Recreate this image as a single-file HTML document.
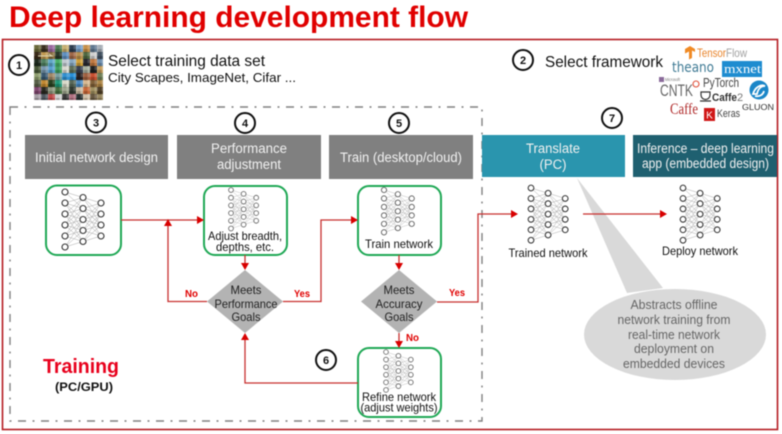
<!DOCTYPE html>
<html><head><meta charset="utf-8"><style>
html,body{margin:0;padding:0;background:#fff;width:782px;height:434px;overflow:hidden}
svg{display:block;filter:blur(.45px)}
text{font-family:"Liberation Sans",sans-serif}
.m{text-anchor:middle}
.w{fill:#f0f0f0;font-size:13.5px}
.b{fill:#111;font-size:12px}
.g{fill:#666;font-size:12.5px;text-anchor:middle}
.r{fill:#e00000;font-weight:bold;font-size:10.5px}
.c{fill:#fff;stroke:#111;stroke-width:2}
.n{fill:#111;font-weight:bold;font-size:11px;text-anchor:middle}
.l{fill:none;stroke:#c8302f;stroke-width:1.3}
.a{fill:#d80000}
.gb{fill:#fff;stroke:#1fa855;stroke-width:2}
.d{fill:#b3b3b3}
</style></head><body>
<svg width="782" height="434" viewBox="0 0 782 434" xmlns="http://www.w3.org/2000/svg">
<defs>
<pattern id="fine" width="7" height="7" patternUnits="userSpaceOnUse">
<rect x="0" y="0" width="3.5" height="3.5" fill="#000" opacity=".22"/>
<rect x="3.5" y="3.5" width="3.5" height="3.5" fill="#fff" opacity=".18"/>
</pattern>
<g id="nl" stroke="#aaa" stroke-width=".5" fill="none">
<path d="M0 0L18 5.5 0 11 18 16.5 0 22 18 27.5 0 33 18 38.5 0 44 18 49.5 0 55 18 38.5 0 22 18 5.5 0 33 18 16.5 0 44 18 27.5 0 55M0 0L18 16.5M0 11L18 27.5M0 22L18 49.5M0 33L18 49.5M0 11L18 38.5"/>
<path d="M18 5.5L36 11 18 16.5 36 22 18 27.5 36 33 18 38.5 36 44 18 49.5 36 33 18 16.5 36 33M18 5.5L36 22 18 38.5 36 11 18 27.5 36 44 18 16.5M18 5.5L36 33M18 49.5L36 22"/>
</g>
<g id="net">
<use href="#nl"/>
<g fill="#fff" stroke="#333" stroke-width="1.1">
<circle cx="0" cy="0" r="3"/><circle cx="0" cy="11" r="3"/><circle cx="0" cy="22" r="3"/><circle cx="0" cy="33" r="3"/><circle cx="0" cy="44" r="3"/><circle cx="0" cy="55" r="3"/>
<circle cx="18" cy="5.5" r="3"/><circle cx="18" cy="16.5" r="3"/><circle cx="18" cy="27.5" r="3"/><circle cx="18" cy="38.5" r="3"/><circle cx="18" cy="49.5" r="3"/>
<circle cx="36" cy="11" r="3"/><circle cx="36" cy="22" r="3"/><circle cx="36" cy="33" r="3"/><circle cx="36" cy="44" r="3"/>
</g>
</g>
<g id="nets">
<use href="#nl"/>
<g fill="#fff" stroke="#555" stroke-width="1.1">
<circle cx="0" cy="0" r="3.400"/><circle cx="0" cy="11" r="3.400"/><circle cx="0" cy="22" r="3.400"/><circle cx="0" cy="33" r="3.400"/><circle cx="0" cy="44" r="3.400"/><circle cx="0" cy="55" r="3.400"/>
<circle cx="18" cy="5.5" r="3.400"/><circle cx="18" cy="16.5" r="3.400"/><circle cx="18" cy="27.5" r="3.400"/><circle cx="18" cy="38.5" r="3.400"/><circle cx="18" cy="49.5" r="3.400"/>
<circle cx="36" cy="11" r="3.400"/><circle cx="36" cy="22" r="3.400"/><circle cx="36" cy="33" r="3.400"/><circle cx="36" cy="44" r="3.400"/>
</g>
</g>
</defs>
<rect width="782" height="434" fill="#fff"/>
<text x="9" y="27" font-size="29.500" font-weight="bold" fill="#e00000" textLength="459" lengthAdjust="spacingAndGlyphs">Deep learning development flow</text>
<rect x="2.5" y="39.5" width="775" height="390" fill="none" stroke="#b51c22" stroke-width="1.6"/>
<rect x="10" y="107" width="472" height="314" fill="none" stroke="#808080" stroke-width="1.4" stroke-dasharray="8 6.500 2 6.500"/>

<!-- collage -->
<g>
<rect x="34" y="45" width="69" height="55" fill="#5a5a4a"/>
<rect x="34" y="45" width="7" height="7" fill="#6b6a3a"/><rect x="41" y="45" width="7" height="7" fill="#3a3020"/><rect x="48" y="45" width="7" height="7" fill="#9a6aa0"/><rect x="55" y="45" width="7" height="7" fill="#4f7c52"/><rect x="62" y="45" width="7" height="7" fill="#c8b070"/><rect x="69" y="45" width="7" height="7" fill="#2d3d50"/><rect x="76" y="45" width="7" height="7" fill="#78a0c8"/><rect x="83" y="45" width="7" height="7" fill="#c89048"/><rect x="90" y="45" width="7" height="7" fill="#607890"/><rect x="97" y="45" width="6" height="7" fill="#a8b0b8"/>
<rect x="34" y="52" width="7" height="7" fill="#3a2a18"/><rect x="41" y="52" width="7" height="7" fill="#c09850"/><rect x="48" y="52" width="7" height="7" fill="#8a7040"/><rect x="55" y="52" width="7" height="7" fill="#283828"/><rect x="62" y="52" width="7" height="7" fill="#6090c0"/><rect x="69" y="52" width="7" height="7" fill="#a06848"/><rect x="76" y="52" width="7" height="7" fill="#b89050"/><rect x="83" y="52" width="7" height="7" fill="#506840"/><rect x="90" y="52" width="7" height="7" fill="#d0d0d0"/><rect x="97" y="52" width="6" height="7" fill="#405060"/>
<rect x="34" y="59" width="7" height="7" fill="#1e2a1e"/><rect x="41" y="59" width="7" height="7" fill="#508060"/><rect x="48" y="59" width="7" height="7" fill="#60a8c8"/><rect x="55" y="59" width="7" height="7" fill="#48b068"/><rect x="62" y="59" width="7" height="7" fill="#c0c8d0"/><rect x="69" y="59" width="7" height="7" fill="#88a8c0"/><rect x="76" y="59" width="7" height="7" fill="#d0a038"/><rect x="83" y="59" width="7" height="7" fill="#282830"/><rect x="90" y="59" width="7" height="7" fill="#c07840"/><rect x="97" y="59" width="6" height="7" fill="#7090b0"/>
<rect x="34" y="66" width="7" height="7" fill="#485838"/><rect x="41" y="66" width="7" height="7" fill="#7898b0"/><rect x="48" y="66" width="7" height="7" fill="#58a0d0"/><rect x="55" y="66" width="7" height="7" fill="#40a060"/><rect x="62" y="66" width="7" height="7" fill="#d8d8d0"/><rect x="69" y="66" width="7" height="7" fill="#607058"/><rect x="76" y="66" width="7" height="7" fill="#384050"/><rect x="83" y="66" width="7" height="7" fill="#a8b0a0"/><rect x="90" y="66" width="7" height="7" fill="#202020"/><rect x="97" y="66" width="6" height="7" fill="#c8a060"/>
<rect x="34" y="73" width="7" height="7" fill="#90a070"/><rect x="41" y="73" width="7" height="7" fill="#385870"/><rect x="48" y="73" width="7" height="7" fill="#a08868"/><rect x="55" y="73" width="7" height="7" fill="#78a0a0"/><rect x="62" y="73" width="7" height="7" fill="#3090d0"/><rect x="69" y="73" width="7" height="7" fill="#2890d8"/><rect x="76" y="73" width="7" height="7" fill="#282020"/><rect x="83" y="73" width="7" height="7" fill="#a06040"/><rect x="90" y="73" width="7" height="7" fill="#c85030"/><rect x="97" y="73" width="6" height="7" fill="#708058"/>
<rect x="34" y="80" width="7" height="7" fill="#586048"/><rect x="41" y="80" width="7" height="7" fill="#c08830"/><rect x="48" y="80" width="7" height="7" fill="#284020"/><rect x="55" y="80" width="7" height="7" fill="#209878"/><rect x="62" y="80" width="7" height="7" fill="#d8d8c8"/><rect x="69" y="80" width="7" height="7" fill="#586858"/><rect x="76" y="80" width="7" height="7" fill="#4888c0"/><rect x="83" y="80" width="7" height="7" fill="#d8b890"/><rect x="90" y="80" width="7" height="7" fill="#806038"/><rect x="97" y="80" width="6" height="7" fill="#b08848"/>
<rect x="34" y="87" width="7" height="7" fill="#804870"/><rect x="41" y="87" width="7" height="7" fill="#282820"/><rect x="48" y="87" width="7" height="7" fill="#909880"/><rect x="55" y="87" width="7" height="7" fill="#487040"/><rect x="62" y="87" width="7" height="7" fill="#a0a890"/><rect x="69" y="87" width="7" height="7" fill="#303830"/><rect x="76" y="87" width="7" height="7" fill="#c8b8a0"/><rect x="83" y="87" width="7" height="7" fill="#c86838"/><rect x="90" y="87" width="7" height="7" fill="#a09060"/><rect x="97" y="87" width="6" height="7" fill="#504028"/>
<rect x="34" y="94" width="7" height="6" fill="#a8a0a8"/><rect x="41" y="94" width="7" height="6" fill="#505860"/><rect x="48" y="94" width="7" height="6" fill="#c04848"/><rect x="55" y="94" width="7" height="6" fill="#d0d0d0"/><rect x="62" y="94" width="7" height="6" fill="#383838"/><rect x="69" y="94" width="7" height="6" fill="#b07080"/><rect x="76" y="94" width="7" height="6" fill="#283030"/><rect x="83" y="94" width="7" height="6" fill="#d0c0a8"/><rect x="90" y="94" width="7" height="6" fill="#685840"/><rect x="97" y="94" width="6" height="6" fill="#988860"/>
<rect x="34" y="45" width="69" height="55" fill="url(#fine)"/>
<path d="M38 56h14l-3-2" fill="none" stroke="#e0d8b0" stroke-width="1"/>
</g>

<text x="108" y="66" font-size="16" fill="#111" textLength="157" lengthAdjust="spacingAndGlyphs">Select training data set</text>
<text x="108" y="82" font-size="13" fill="#111" textLength="188" lengthAdjust="spacingAndGlyphs">City Scapes, ImageNet, Cifar ...</text>
<text x="545" y="67" font-size="16" fill="#111" textLength="118" lengthAdjust="spacingAndGlyphs">Select framework</text>

<!-- logos -->
<path d="M685 49l5-3 5 3v3l-3-1.500v7.500l-3 1.500v-8l-4 2z" fill="#f08a24"/>
<text x="697" y="57" font-size="12" fill="#e8832a" textLength="29" lengthAdjust="spacingAndGlyphs">Tensor</text>
<text x="726" y="57" font-size="12" fill="#a0a0a0" textLength="21" lengthAdjust="spacingAndGlyphs">Flow</text>
<text x="672" y="72" font-size="14" fill="#3f7a94" textLength="42" lengthAdjust="spacingAndGlyphs" style="font-family:'DejaVu Sans',sans-serif">theano</text>
<rect x="722" y="61" width="40" height="16" fill="#1e8cd0"/>
<text x="724" y="73" font-size="13" fill="#fff" textLength="37" lengthAdjust="spacingAndGlyphs" style="font-family:'Liberation Serif',serif">mxnet</text>
<rect x="659" y="77" width="5" height="5" fill="#8a6a9a"/>
<text x="665" y="81" font-size="4.500" fill="#777" textLength="15" lengthAdjust="spacingAndGlyphs">Microsoft</text>
<text x="660" y="96" font-size="17" fill="#666" textLength="33" lengthAdjust="spacingAndGlyphs">CNTK</text>
<circle cx="696" cy="84" r="3" fill="none" stroke="#e0503a" stroke-width="1.100"/>
<text x="703" y="87" font-size="13" fill="#444" textLength="36" lengthAdjust="spacingAndGlyphs">PyTorch</text>
<path d="M701 92h9v3a4 4 0 0 1-9 0zM700 101h11" fill="none" stroke="#333" stroke-width="1.200"/>
<text x="712" y="101" font-size="11" font-weight="bold" fill="#333" textLength="25" lengthAdjust="spacingAndGlyphs">Caffe</text>
<text x="737" y="101" font-size="11" fill="#777">2</text>
<text x="670" y="114" font-size="16" fill="#b02a2a" textLength="28" lengthAdjust="spacingAndGlyphs" style="font-family:'Liberation Serif',serif">Caffe</text>
<rect x="704" y="108" width="11" height="13" fill="#d01818"/>
<text x="709.500" y="118.500" font-size="10" fill="#fff" class="m">K</text>
<text x="717" y="117" font-size="11" fill="#444" textLength="23" lengthAdjust="spacingAndGlyphs">Keras</text>
<circle cx="759" cy="90" r="9.500" fill="#1a86c8"/>
<path d="M753 94c2-7 8-10 12-8-4 0-7 3-8 8zM755 96c4 1 8-1 9-5" fill="none" stroke="#fff" stroke-width="1.800"/>
<text x="742" y="110" font-size="8" fill="#333" textLength="32" lengthAdjust="spacingAndGlyphs">GLUON</text>

<!-- headers -->
<rect x="25" y="135" width="143" height="44" fill="#808080"/>
<rect x="177" y="135" width="144" height="44" fill="#808080"/>
<rect x="329" y="135" width="144" height="44" fill="#808080"/>
<rect x="482" y="135" width="143" height="42" fill="#2a95ae"/>
<rect x="633" y="135" width="144" height="42" fill="#1f6070"/>
<text x="96.500" y="162" class="w m" textLength="123" lengthAdjust="spacingAndGlyphs">Initial network design</text>
<text x="249" y="153" class="w m" textLength="76" lengthAdjust="spacingAndGlyphs">Performance</text>
<text x="249" y="169" class="w m" textLength="64" lengthAdjust="spacingAndGlyphs">adjustment</text>
<text x="401" y="162" class="w m" textLength="122" lengthAdjust="spacingAndGlyphs">Train (desktop/cloud)</text>
<text x="553" y="153" class="w m" textLength="54" lengthAdjust="spacingAndGlyphs">Translate</text>
<text x="553" y="169" class="w m" textLength="27" lengthAdjust="spacingAndGlyphs">(PC)</text>
<text x="705.500" y="153" class="w m" textLength="137" lengthAdjust="spacingAndGlyphs">Inference – deep learning</text>
<text x="705.500" y="168" class="w m" textLength="127" lengthAdjust="spacingAndGlyphs">app (embedded design)</text>

<!-- callout -->
<path d="M577 178L627 293 663 288Z" fill="#d9d9d9"/>
<ellipse cx="675" cy="334.500" rx="91" ry="45.500" fill="#d9d9d9"/>
<text x="674" y="309" class="g" textLength="87" lengthAdjust="spacingAndGlyphs">Abstracts offline</text>
<text x="674" y="324" class="g" textLength="113" lengthAdjust="spacingAndGlyphs">network training from</text>
<text x="674" y="339" class="g" textLength="92" lengthAdjust="spacingAndGlyphs">real-time network</text>
<text x="674" y="353" class="g" textLength="80" lengthAdjust="spacingAndGlyphs">deployment on</text>
<text x="674" y="368" class="g" textLength="102" lengthAdjust="spacingAndGlyphs">embedded devices</text>

<!-- green boxes -->
<rect x="46" y="185.500" width="75" height="69.500" rx="11" class="gb"/>
<rect x="204" y="186" width="83" height="69" rx="11" class="gb"/>
<rect x="358" y="186" width="83" height="69" rx="11" class="gb"/>
<rect x="358" y="348" width="83" height="69" rx="11" class="gb"/>

<!-- networks -->
<use href="#net" transform="translate(65 192)"/>
<use href="#nets" transform="translate(231 190) scale(.7)"/>
<use href="#nets" transform="translate(384 190) scale(.77)"/>
<use href="#nets" transform="translate(386 352) scale(.69)"/>
<use href="#net" transform="translate(531 188) scale(.95)"/>
<use href="#net" transform="translate(683 188) scale(.95)"/>

<!-- diamonds -->
<path d="M245 270L283 301.500 245 333 207 301.500Z" class="d"/>
<path d="M399 270L437 301.500 399 333 361 301.500Z" class="d"/>

<!-- connectors -->
<path class="l" d="M121 220H198"/><path class="a" d="M197 216L204 220 197 224Z"/>
<path class="l" d="M207 301.500H168V224"/><path class="a" d="M164 226L168 219 172 226Z"/>
<path class="l" d="M283 301.500H321V220H352"/><path class="a" d="M351 216L358 220 351 224Z"/>
<path class="l" d="M245 255V264"/><path class="a" d="M241 263L245 270 249 263Z"/>
<path class="l" d="M399 255V264" /><path class="a" d="M395 263L399 270 403 263Z"/>
<path class="l" d="M399 333V342"/><path class="a" d="M395 341L399 348 403 341Z"/>
<path class="l" d="M358 383H245V339"/><path class="a" d="M241 340L245 333 249 340Z"/>
<path class="l" d="M437 302H478V214H512"/><path class="a" d="M511 210L518 214 511 218Z"/>
<path class="l" d="M583 214H661"/><path class="a" d="M660 210L667 214 660 218Z"/>

<!-- node text -->
<text x="245" y="240" class="b m" textLength="74" lengthAdjust="spacingAndGlyphs">Adjust breadth,</text>
<text x="245" y="251" class="b m" textLength="58" lengthAdjust="spacingAndGlyphs">depths, etc.</text>
<text x="399" y="248" class="b m" textLength="68" lengthAdjust="spacingAndGlyphs">Train network</text>
<text x="399" y="401" class="b m" textLength="74" lengthAdjust="spacingAndGlyphs">Refine network</text>
<text x="399" y="411.500" class="b m" textLength="77" lengthAdjust="spacingAndGlyphs">(adjust weights)</text>
<text x="246" y="294" class="b m" style="fill:#222" textLength="31" lengthAdjust="spacingAndGlyphs">Meets</text>
<text x="246" y="308" class="b m" style="fill:#222" textLength="63" lengthAdjust="spacingAndGlyphs">Performance</text>
<text x="246" y="321" class="b m" style="fill:#222" textLength="29" lengthAdjust="spacingAndGlyphs">Goals</text>
<text x="399" y="294" class="b m" style="fill:#222" textLength="31" lengthAdjust="spacingAndGlyphs">Meets</text>
<text x="399" y="308" class="b m" style="fill:#222" textLength="47" lengthAdjust="spacingAndGlyphs">Accuracy</text>
<text x="399" y="321" class="b m" style="fill:#222" textLength="29" lengthAdjust="spacingAndGlyphs">Goals</text>
<text x="548" y="257" class="b m" textLength="79" lengthAdjust="spacingAndGlyphs">Trained network</text>
<text x="700" y="255" class="b m" textLength="76" lengthAdjust="spacingAndGlyphs">Deploy network</text>
<text x="185" y="297" class="r" textLength="13" lengthAdjust="spacingAndGlyphs">No</text>
<text x="294" y="297" class="r" textLength="16" lengthAdjust="spacingAndGlyphs">Yes</text>
<text x="449" y="296" class="r" textLength="16" lengthAdjust="spacingAndGlyphs">Yes</text>
<text x="406" y="341" class="r" textLength="13" lengthAdjust="spacingAndGlyphs">No</text>
<text x="43" y="373" font-size="20" font-weight="bold" fill="#e8001c" textLength="76" lengthAdjust="spacingAndGlyphs">Training</text>
<text x="55" y="391" font-size="12" font-weight="bold" fill="#111" textLength="58" lengthAdjust="spacingAndGlyphs">(PC/GPU)</text>

<!-- number circles -->
<circle cx="19" cy="65" r="10" class="c"/><text x="19" y="69" class="n">1</text>
<circle cx="523" cy="60" r="10" class="c"/><text x="523" y="64" class="n">2</text>
<circle cx="96" cy="122.500" r="10" class="c"/><text x="96" y="126.500" class="n">3</text>
<circle cx="245" cy="123" r="10" class="c"/><text x="245" y="127" class="n">4</text>
<circle cx="399" cy="123" r="10" class="c"/><text x="399" y="127" class="n">5</text>
<circle cx="326" cy="360" r="10" class="c"/><text x="326" y="364" class="n">6</text>
<circle cx="612" cy="118" r="10" class="c"/><text x="612" y="122" class="n">7</text>
</svg>
</body></html>
